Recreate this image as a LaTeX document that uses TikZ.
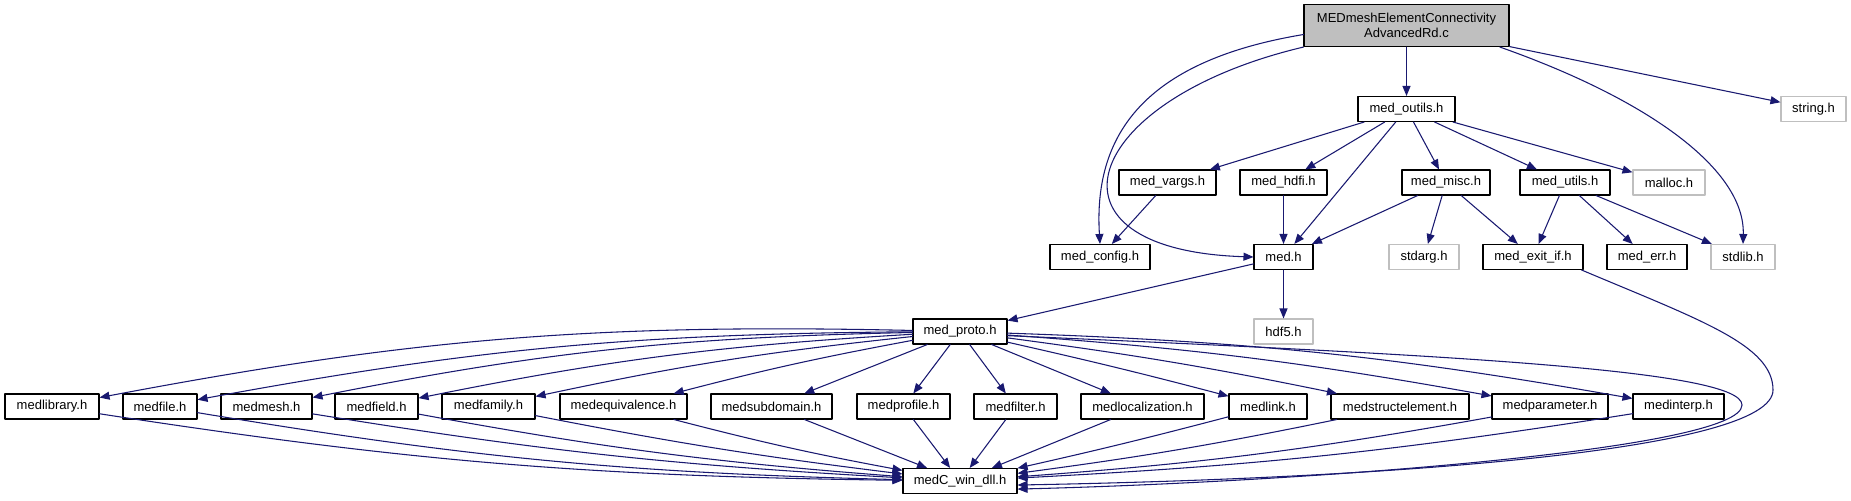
\documentclass[tikz,border=0pt]{standalone}
\usepackage{fontspec}
\setmainfont{Liberation Sans}
\usetikzlibrary{arrows.meta}
\definecolor{edgeblue}{HTML}{191970}
\definecolor{sysgrey}{HTML}{BFBFBF}

\begin{document}
\begin{tikzpicture}[x=0.75pt,y=0.75pt,line cap=round,line join=round,
  every node/.style={inner sep=0pt,font=\fontsize{9.75}{11.7}\selectfont},
  hdr/.style={draw=black,line width=0.8pt,fill=white,minimum height=18.75pt,minimum width=#1*0.75pt},
  syshdr/.style={hdr=#1,draw=sysgrey},
  dep/.style={draw=edgeblue,line width=0.8pt,-{Triangle[length=7.5pt,width=6pt]}}]
  \useasboundingbox (0,0) rectangle (1851,-500);
  % top rows
  \node[hdr=205,minimum height=31.5pt,fill=sysgrey,align=center] (main) at (1406.5,-25.5) {MEDmeshElementConnectivity\\AdvancedRd.c};
  \node[hdr=97] (outils) at (1406.5,-109) {med\_outils.h};
  \node[syshdr=65] (string) at (1813.5,-109) {string.h};
  \node[hdr=97] (vargs) at (1167.5,-182.5) {med\_vargs.h};
  \node[hdr=87] (hdfi) at (1283.5,-182.5) {med\_hdfi.h};
  \node[hdr=88] (misc) at (1446,-182.5) {med\_misc.h};
  \node[hdr=90] (utils) at (1565,-182.5) {med\_utils.h};
  \node[syshdr=72] (malloc) at (1669,-182.5) {malloc.h};
  \node[hdr=100] (config) at (1100,-257) {med\_config.h};
  \node[hdr=59] (med) at (1283.5,-257) {med.h};
  \node[syshdr=70] (stdarg) at (1424,-257) {stdarg.h};
  \node[hdr=100] (exitif) at (1533,-257) {med\_exit\_if.h};
  \node[hdr=80] (err) at (1647,-257) {med\_err.h};
  \node[syshdr=64] (stdlib) at (1743,-257) {stdlib.h};
  \node[hdr=94] (proto) at (960,-331.5) {med\_proto.h};
  \node[syshdr=59] (hdf5) at (1283.5,-331.5) {hdf5.h};
  % api headers
  \foreach \n/\x/\w/\t in {library/52/94/medlibrary.h, file/160/74/medfile.h,
      mesh/266.5/91/medmesh.h, field/376.5/83/medfield.h, family/488.5/93/medfamily.h,
      equiv/623.5/127/medequivalence.h, subdom/771.5/121/medsubdomain.h,
      profile/903.5/93/medprofile.h, filter/1015.5/83/medfilter.h,
      localiz/1142.5/123/medlocalization.h, link/1268/78/medlink.h,
      struct/1400/138/medstructelement.h, param/1550/116/medparameter.h,
      interp/1678.5/91/medinterp.h}
    \node[hdr=\w] (\n) at (\x,-406.5) {\t};
  \node[hdr=114] (windll) at (960,-481) {medC\_win\_dll.h};
  % edges
  \draw[dep] (main) -- (outils);
  \draw[dep] (main) -- (string);
  \draw[dep] (main.185) .. controls (1150,-60) and (1093,-130) .. (config.north);
  \draw[dep] (main.south west) .. controls (1080,-100) and (1030,-250) .. (med.west);
  \draw[dep] (main.-13) .. controls (1650,-100) and (1745,-170) .. (stdlib.north);
  \foreach \t in {vargs,hdfi,med,misc,utils,malloc}
    \draw[dep] (outils) -- (\t);
  \draw[dep] (vargs) -- (config);
  \draw[dep] (hdfi) -- (med);
  \foreach \t in {med,stdarg,exitif}
    \draw[dep] (misc) -- (\t);
  \foreach \t in {exitif,err,stdlib}
    \draw[dep] (utils) -- (\t);
  \draw[dep] (med) -- (proto);
  \draw[dep] (med) -- (hdf5);
  \foreach \t/\a/\b in {library/6/4, file/5/4, mesh/5/3, field/4/3, family/3/2,
      equiv/2/2, subdom/0/0, profile/0/0, filter/0/0, localiz/0/0,
      link/-1/-1, struct/-2/-2, param/-3/-3, interp/-4/-3} {
    \draw[dep] (proto) to[bend right=\a] (\t);
    \draw[dep] (\t) to[bend right=\b] (windll);
  }
  \draw[dep] (proto.-5) .. controls (1450,-355) and (1742,-370) .. (1742,-405)
    .. controls (1742,-450) and (1300,-482) .. (windll.-8);
  \draw[dep] (exitif.-15) .. controls (1700,-320) and (1773,-345) .. (1773,-390)
    .. controls (1773,-450) and (1400,-478) .. (windll.-4);
\end{tikzpicture}
\end{document}
